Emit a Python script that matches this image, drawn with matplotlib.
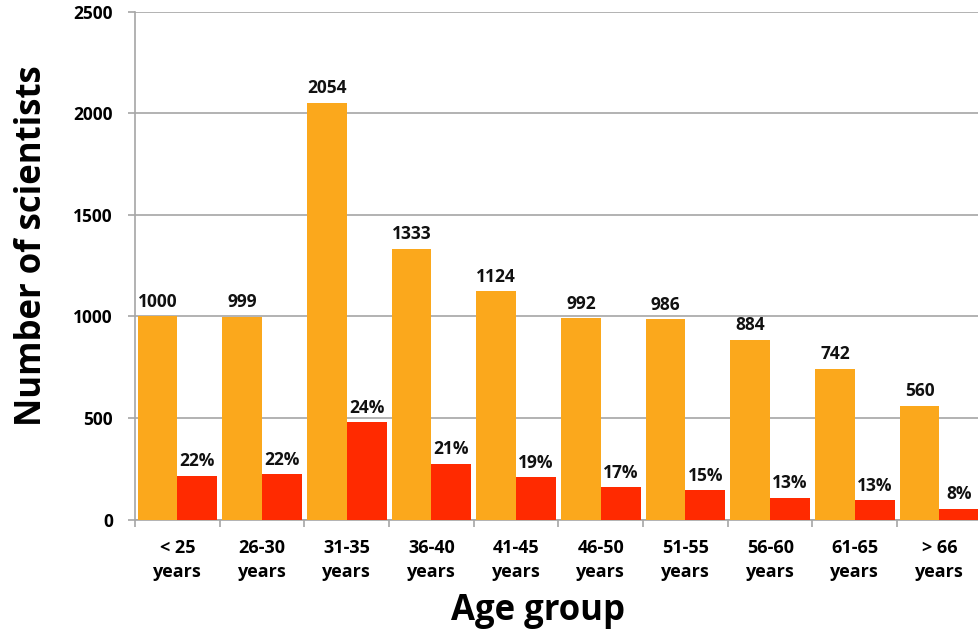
import numpy as np
import matplotlib.pyplot as plt

groups = ['< 25\nyears', '26-30\nyears', '31-35\nyears', '36-40\nyears', '41-45\nyears',
          '46-50\nyears', '51-55\nyears', '56-60\nyears', '61-65\nyears', '> 66\nyears']
totals = [1000, 999, 2054, 1333, 1124, 992, 986, 884, 742, 560]
subset = [215, 223, 478, 274, 209, 159, 145, 108, 95, 52]
pct_labels = ['22%', '22%', '24%', '21%', '19%', '17%', '15%', '13%', '13%', '8%']

plt.rcParams['font.family'] = ['Open Sans', 'DejaVu Sans']
plt.rcParams['font.weight'] = 'bold'

fig = plt.figure(figsize=(9.79, 6.31), dpi=100)
ax = fig.add_axes([0.1379, 0.1767, 0.865, 0.8043])

x = np.arange(len(groups))
w = 0.47
orange = '#FBA81C'
red = '#FF2A00'

b1 = ax.bar(x - w/2, totals, w, color=orange, zorder=3)
b2 = ax.bar(x + w/2, subset, w, color=red, zorder=3)

# value labels on top of the bars
for rect, v in zip(b1, totals):
    ax.annotate(str(v), (rect.get_x() + rect.get_width()/2, rect.get_height()),
                xytext=(0, 4), textcoords='offset points', ha='center', va='bottom',
                fontsize=12.5, fontweight='bold', color='#111111')
for rect, s in zip(b2, pct_labels):
    ax.annotate(s, (rect.get_x() + rect.get_width()/2, rect.get_height()),
                xytext=(0, 4), textcoords='offset points', ha='center', va='bottom',
                fontsize=12.5, fontweight='bold', color='#111111')

ax.set_xlim(-0.5, len(groups) - 0.5)
ax.set_ylim(0, 2500)
ax.set_yticks(np.arange(0, 2501, 500))
ax.set_yticklabels([str(v) for v in range(0, 2501, 500)], fontsize=12.5, fontweight='bold')
ax.yaxis.grid(True, color='#A6A6A6', linewidth=1.2, zorder=0)

ax.set_xticks(x)
ax.set_xticklabels(groups, fontsize=13, fontweight='bold', linespacing=1.45)
ax.set_xticks(np.arange(-0.5, len(groups), 1), minor=True)
ax.tick_params(axis='x', which='major', length=0, pad=14)
ax.tick_params(axis='x', which='minor', length=5, color='#A6A6A6', width=1.2)
ax.tick_params(axis='y', length=5, color='#A6A6A6', width=1.2, pad=11)

for s in ['top', 'right']:
    ax.spines[s].set_visible(False)
for s in ['left', 'bottom']:
    ax.spines[s].set_color('#A6A6A6')
    ax.spines[s].set_linewidth(1.2)

ax.set_ylabel('Number of scientists', fontsize=25, fontweight='bold')
ax.yaxis.set_label_coords(-0.1003, 0.539)
ax.set_xlabel('Age group', fontsize=25, fontweight='bold', va='baseline')
ax.xaxis.set_label_coords(0.476, -0.198)

fig.savefig('out.png', dpi=100)
